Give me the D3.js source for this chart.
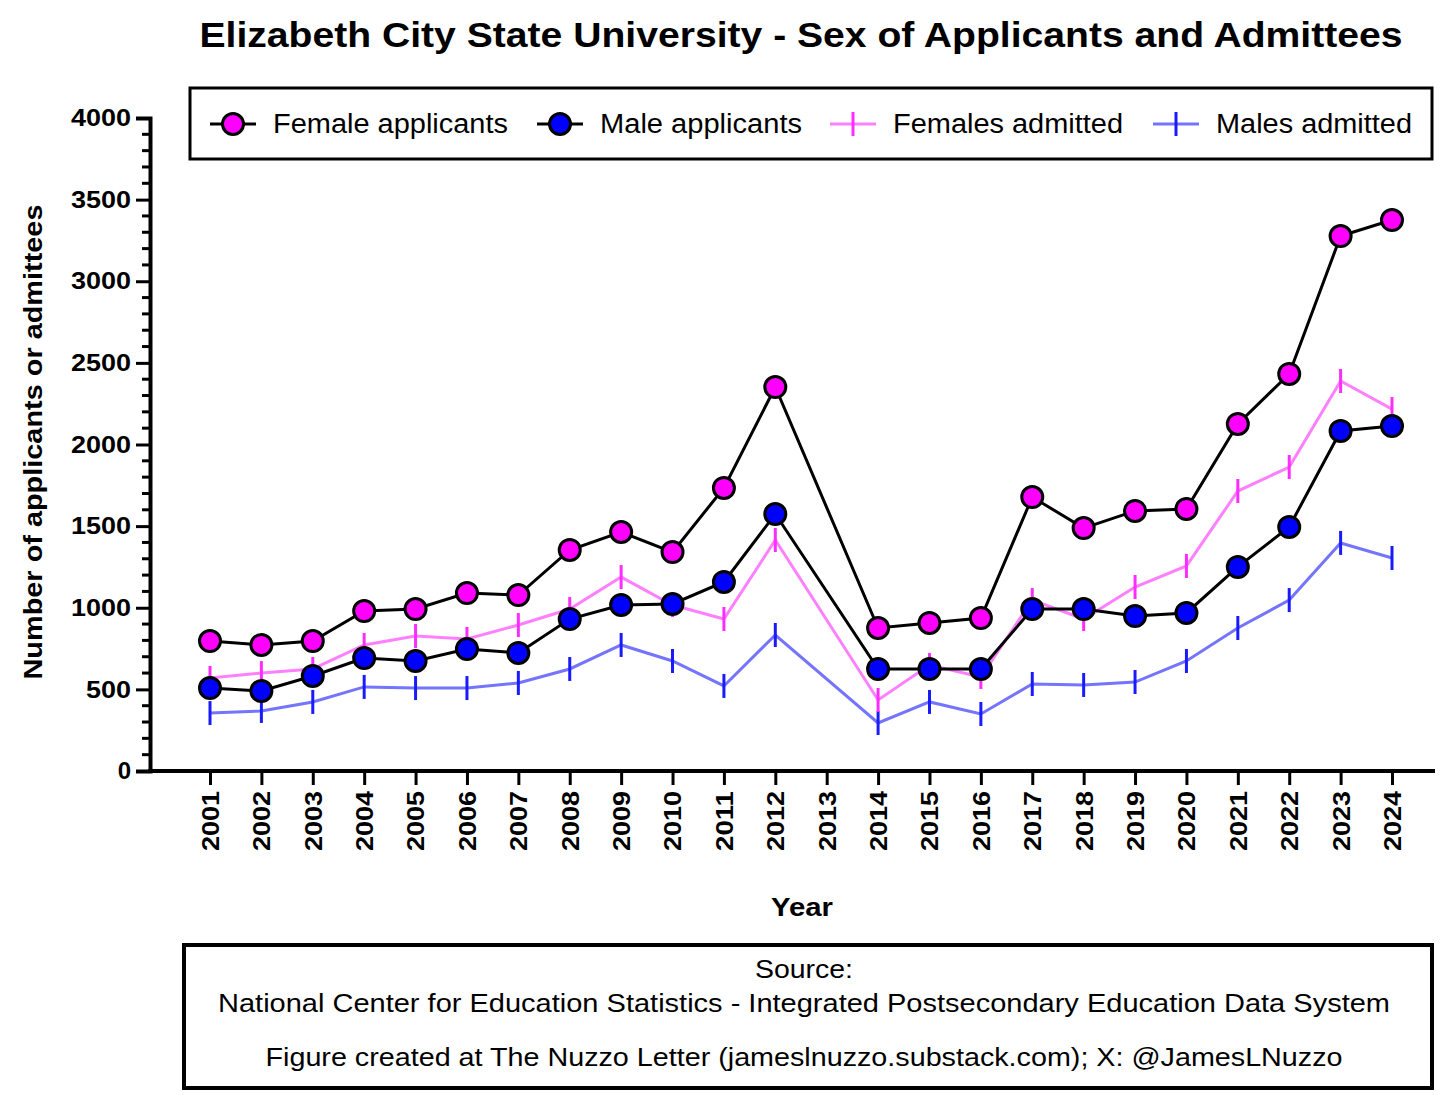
<!DOCTYPE html>
<html><head><meta charset="utf-8">
<script src="https://cdn.jsdelivr.net/npm/d3@7"></script>
<style>body{margin:0;background:#fff;font-family:"Liberation Sans",Arial,sans-serif}</style>
</head><body><svg id="c" width="1456" height="1095"></svg>
<script>
const years=[2001,2002,2003,2004,2005,2006,2007,2008,2009,2010,2011,2012,2013,2014,2015,2016,2017,2018,2019,2020,2021,2022,2023,2024];
const femaleApplicants=[796,772,796,980,992,1090,1078,1354,1464,1341,1734,2352,null,876,907,937,1678,1488,1593,1605,2126,2432,3277,3375];
const maleApplicants=[508,490,582,692,674,747,723,931,1017,1023,1158,1574,null,625,625,625,992,992,949,968,1250,1495,2083,2113];
const femalesAdmitted=[570,600,625,772,827,809,894,992,1188,1017,931,1415,null,435,649,576,1047,931,1127,1256,1715,1862,2389,2217];
const malesAdmitted=[355,368,423,515,508,508,539,625,772,674,521,833,null,294,423,349,533,527,545,674,876,1047,1397,1305];
const yTicks=[0,500,1000,1500,2000,2500,3000,3500,4000];

const svg=d3.select("#c");
const x=d3.scalePoint().domain(years).range([210,1392]);
const y=d3.scaleLinear().domain([0,4000]).range([771,118]);
const fit=(s,len)=>s.attr("textLength",len).attr("lengthAdjust","spacingAndGlyphs");

fit(svg.append("text").attr("x",801).attr("y",47).attr("text-anchor","middle").attr("font-size",35).attr("font-weight","bold").text("Elizabeth City State University - Sex of Applicants and Admittees"),1203);

const ya=svg.append("g").attr("transform","translate(150,0)").call(d3.axisLeft(y).tickValues(yTicks).tickSize(14).tickFormat(d3.format("d")));
ya.select(".domain").attr("stroke-width",4);
ya.selectAll(".tick line").attr("stroke-width",3);
ya.selectAll(".tick text").attr("font-size",24).attr("font-weight","bold").attr("font-family","Liberation Sans, Arial").attr("fill","#000").attr("dx",-2)
  .each(function(d){ if(d>=1000) d3.select(this).attr("textLength",60).attr("lengthAdjust","spacingAndGlyphs"); else if(d>0) d3.select(this).attr("textLength",45).attr("lengthAdjust","spacingAndGlyphs");});
svg.append("g").selectAll("line").data(d3.range(0,4001,100).filter(v=>v%500)).join("line")
 .attr("x1",142).attr("x2",150).attr("y1",d=>y(d)).attr("y2",d=>y(d)).attr("stroke","#000").attr("stroke-width",3);
const xa=svg.append("g").attr("transform","translate(0,771)").call(d3.axisBottom(x).tickSize(14).tickSizeOuter(0));
xa.select(".domain").attr("d","M148,0H1435").attr("stroke-width",4);
xa.selectAll(".tick line").attr("stroke-width",3);
xa.selectAll(".tick text").attr("font-size",24).attr("font-weight","bold").attr("font-family","Liberation Sans, Arial").attr("fill","#000")
 .attr("transform","rotate(-90)").attr("text-anchor","end").attr("x",-20).attr("y",0).attr("dy","0.35em")
 .attr("textLength",60).attr("lengthAdjust","spacingAndGlyphs");

fit(svg.append("text").attr("x",802).attr("y",916).attr("text-anchor","middle").attr("font-size",26).attr("font-weight","bold").text("Year"),62);
fit(svg.append("text").attr("transform","translate(42,442) rotate(-90)").attr("text-anchor","middle").attr("font-size",26).attr("font-weight","bold").text("Number of applicants or admittees"),475);

function pts(arr){return years.map((yr,i)=>({yr,v:arr[i]})).filter(d=>d.v!=null);}
const line=d3.line().x(d=>x(d.yr)).y(d=>y(d.v));

function tickSeries(arr,lc,tc){
 const p=pts(arr);
 svg.append("path").attr("d",line(p)).attr("fill","none").attr("stroke",lc).attr("stroke-width",3);
 svg.append("g").selectAll("line").data(p).join("line").attr("x1",d=>x(d.yr)).attr("x2",d=>x(d.yr))
  .attr("y1",d=>y(d.v)-12).attr("y2",d=>y(d.v)+12).attr("stroke",tc).attr("stroke-width",3);
}
function circSeries(arr,fill){
 const p=pts(arr);
 svg.append("path").attr("d",line(p)).attr("fill","none").attr("stroke","#000").attr("stroke-width",3);
 svg.append("g").selectAll("circle").data(p).join("circle").attr("cx",d=>x(d.yr)).attr("cy",d=>y(d.v)).attr("r",10.5)
  .attr("fill",fill).attr("stroke","#000").attr("stroke-width",3);
}
tickSeries(malesAdmitted,"#7474ff","#1a1aff");
tickSeries(femalesAdmitted,"#ff80ff","#ff2cff");
circSeries(maleApplicants,"#0000ff");
circSeries(femaleApplicants,"#ff00ff");

svg.append("rect").attr("x",190).attr("y",88).attr("width",1242).attr("height",71).attr("fill","#fff").attr("stroke","#000").attr("stroke-width",3);
const leg=[["Female applicants","c","#ff00ff",210,235],["Male applicants","c","#0000ff",537,202],["Females admitted","t","#ff2cff",830,230],["Males admitted","t","#1a1aff",1153,196]];
leg.forEach(([t,k,c,lx,tl])=>{
 const cy=124;
 if(k=="c"){
  svg.append("line").attr("x1",lx).attr("x2",lx+46).attr("y1",cy).attr("y2",cy).attr("stroke","#000").attr("stroke-width",3);
  svg.append("circle").attr("cx",lx+23).attr("cy",cy).attr("r",10.5).attr("fill",c).attr("stroke","#000").attr("stroke-width",3);
 } else {
  svg.append("line").attr("x1",lx).attr("x2",lx+46).attr("y1",cy).attr("y2",cy).attr("stroke",c==="#ff2cff"?"#ff80ff":"#7474ff").attr("stroke-width",3);
  svg.append("line").attr("x1",lx+23).attr("x2",lx+23).attr("y1",cy-12).attr("y2",cy+12).attr("stroke",c).attr("stroke-width",3);
 }
 fit(svg.append("text").attr("x",lx+63).attr("y",cy+9).attr("font-size",27).text(t),tl);
});

svg.append("rect").attr("x",184).attr("y",945).attr("width",1248).attr("height",143).attr("fill","#fff").attr("stroke","#000").attr("stroke-width",4);
[["Source:",978,98],["National Center for Education Statistics - Integrated Postsecondary Education Data System",1012,1172],["Figure created at The Nuzzo Letter (jameslnuzzo.substack.com); X: @JamesLNuzzo",1066,1077]].forEach(([t,yy,tl])=>
 fit(svg.append("text").attr("x",804).attr("y",yy).attr("text-anchor","middle").attr("font-size",26).text(t),tl));
</script></body></html>
